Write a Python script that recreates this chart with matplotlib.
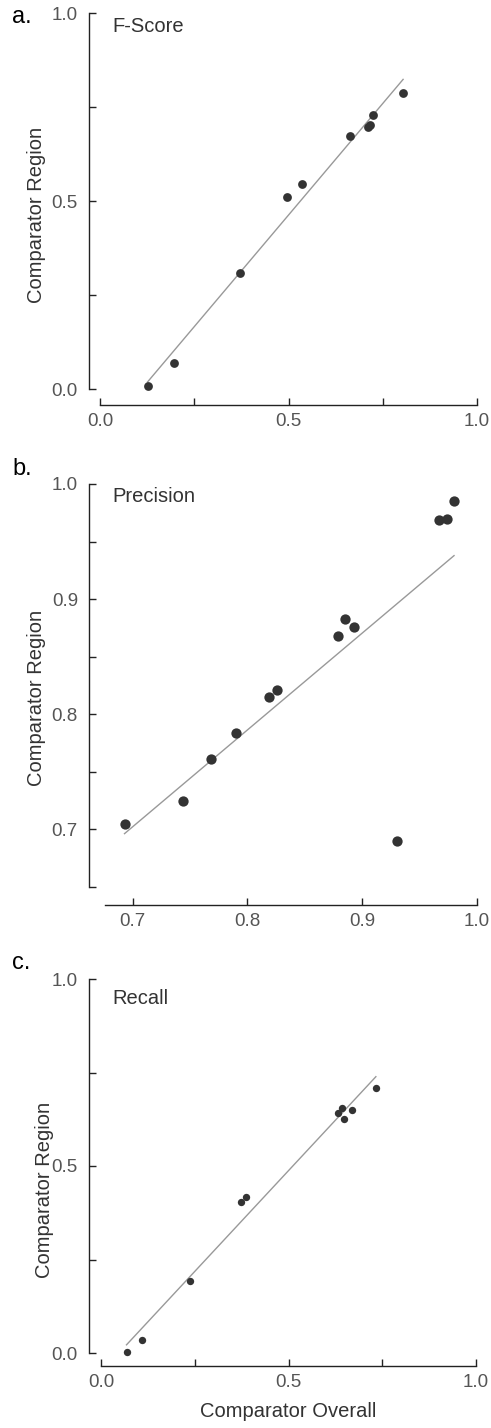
import numpy as np
import matplotlib
matplotlib.use("Agg")
import matplotlib.pyplot as plt

plt.rcParams['font.family'] = ['Liberation Sans', 'DejaVu Sans']

# F-Score
fscore_overall = [0.126, 0.195, 0.371, 0.497, 0.537, 0.663, 0.711, 0.716, 0.723, 0.804]
fscore_region = [0.008, 0.070, 0.309, 0.511, 0.546, 0.672, 0.697, 0.702, 0.730, 0.788]

# Precision
prec_overall = [0.693, 0.744, 0.768, 0.790, 0.819, 0.826, 0.879, 0.885, 0.893, 0.930,
                0.967, 0.974, 0.980]
prec_region = [0.705, 0.725, 0.761, 0.784, 0.815, 0.821, 0.868, 0.883, 0.876, 0.690,
               0.969, 0.970, 0.985]

# Recall
recall_overall = [0.068, 0.110, 0.236, 0.373, 0.387, 0.632, 0.643, 0.648, 0.669, 0.733]
recall_region = [0.004, 0.035, 0.193, 0.405, 0.418, 0.641, 0.656, 0.625, 0.650, 0.709]

W, H = 491, 1428
fig = plt.figure(figsize=(W / 100, H / 100), dpi=100)


def px_axes(left, top, right, bottom):
    return fig.add_axes([left / W, 1 - bottom / H, (right - left) / W, (bottom - top) / H])


tick_col = '#555555'
lab_col = '#333333'


def style(ax, xlim, ylim, xticks, yticks, xlabels, ylabels, left_off, bottom_off):
    ax.set_xlim(*xlim)
    ax.set_ylim(*ylim)
    for s in ['top', 'right']:
        ax.spines[s].set_visible(False)
    ax.spines['left'].set_position(('outward', left_off * 0.72))
    ax.spines['bottom'].set_position(('outward', bottom_off * 0.72))
    for s in ['left', 'bottom']:
        ax.spines[s].set_linewidth(1.0)
        ax.spines[s].set_color('#222222')
    ax.set_xticks(xticks)
    ax.set_xticklabels(xlabels)
    ax.set_yticks(yticks)
    ax.set_yticklabels(ylabels)
    ax.tick_params(direction='in', length=5, width=1.0, color='#222222',
                   labelsize=13.5, labelcolor=tick_col)
    ax.tick_params(axis='y', pad=8)
    ax.tick_params(axis='x', pad=6)
    ax.patch.set_visible(False)


def fit_line(ax, x, y):
    x = np.array(x)
    y = np.array(y)
    k, b = np.polyfit(x, y, 1)
    xs = np.array([x.min(), x.max()])
    ax.plot(xs, k * xs + b, color='#999999', lw=1.0, zorder=1)


# panel a
ax1 = px_axes(100, 13, 477, 389)
style(ax1, (0, 1), (0, 1), [0, 0.25, 0.5, 0.75, 1.0], [0, 0.25, 0.5, 0.75, 1.0],
      ['0.0', '', '0.5', '', '1.0'], ['0.0', '', '0.5', '', '1.0'], 11, 16)
fit_line(ax1, fscore_overall, fscore_region)
ax1.scatter(fscore_overall, fscore_region, s=40, color='#333333', zorder=3, linewidths=0, clip_on=False)
ax1.set_ylabel('Comparator Region', fontsize=14.5, color=lab_col)
ax1.yaxis.set_label_coords(-0.143, 0.463)

# panel b
ax2 = px_axes(105, 484, 477, 887)
style(ax2, (0.676, 1.0), (0.65, 1.0), [0.7, 0.8, 0.9, 1.0],
      [0.65, 0.7, 0.75, 0.8, 0.85, 0.9, 0.95, 1.0],
      ['0.7', '0.8', '0.9', '1.0'], ['', '0.7', '', '0.8', '', '0.9', '', '1.0'], 16, 18)
fit_line(ax2, prec_overall, prec_region)
ax2.scatter(prec_overall, prec_region, s=55, color='#333333', zorder=3, linewidths=0, clip_on=False)
ax2.set_ylabel('Comparator Region', fontsize=14.5, color=lab_col)
ax2.yaxis.set_label_coords(-0.159, 0.469)

# panel c
ax3 = px_axes(101, 979, 476, 1353)
style(ax3, (0, 1), (0, 1), [0, 0.25, 0.5, 0.75, 1.0], [0, 0.25, 0.5, 0.75, 1.0],
      ['0.0', '', '0.5', '', '1.0'], ['0.0', '', '0.5', '', '1.0'], 12, 13)
fit_line(ax3, recall_overall, recall_region)
ax3.scatter(recall_overall, recall_region, s=28, color='#333333', zorder=3, linewidths=0, clip_on=False)
ax3.set_ylabel('Comparator Region', fontsize=14.5, color=lab_col)
ax3.yaxis.set_label_coords(-0.125, 0.436)
ax3.set_xlabel('Comparator Overall', fontsize=14.5, color=lab_col)
ax3.xaxis.set_label_coords(0.5, -0.13)

# panel titles and letters
for txt, y in [('F-Score', 32), ('Precision', 502), ('Recall', 1004)]:
    fig.text(112 / W, 1 - y / H, txt, fontsize=14.5, color=lab_col, va='baseline', ha='left')
for txt, y in [('a.', 23), ('b.', 475), ('c.', 969)]:
    fig.text(12 / W, 1 - y / H, txt, fontsize=17, color='black', va='baseline', ha='left')

fig.savefig('out.png', dpi=100)
